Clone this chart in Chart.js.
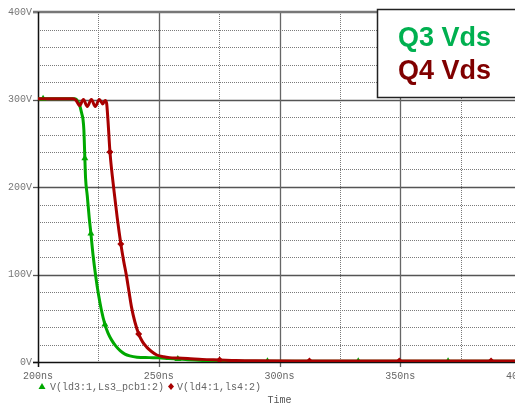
<!DOCTYPE html>
<html>
<head>
<meta charset="utf-8">
<script src="https://cdn.jsdelivr.net/npm/chart.js@4/dist/chart.umd.min.js"></script>
<style>
  html, body { margin: 0; padding: 0; background: #fff; overflow: hidden; }
  #wrap { width: 515px; height: 408px; overflow: hidden; }
  canvas { display: block; }
</style>
</head>
<body>
<div id="wrap"><canvas id="c" width="560" height="408"></canvas></div>
<script>
// Q3 drain-source voltage (time in ns, volts)
const timeQ3 = [200, 202.1, 210, 215.3, 216.5, 217.4, 218.2, 218.6, 219.0, 219.4, 219.7, 220.4, 221.2, 221.9, 222.8, 224.0, 225.0, 226.2, 227.7, 229.0, 230.5, 232.0, 234.0, 236.0, 238.0, 241.0, 246.0, 250.0, 254.0, 257.9, 262, 268, 275, 285, 295, 332.6, 369.8, 400];
const vdsQ3  = [301, 301, 301, 301, 298, 292, 283, 278, 265, 233, 210, 190, 165, 147, 122, 96, 78, 60, 43, 33, 25, 19, 13, 9, 7, 5.5, 5, 4.8, 4, 3.4, 2.6, 1.8, 1.2, 0.9, 0.8, 0.8, 0.8, 0.8];
const markerQ3 = [202.1, 219.4, 221.9, 227.7, 257.9, 295, 332.6, 369.8];

// Q4 drain-source voltage (time in ns, volts)
const timeQ4 = [200, 210, 214.5, 215.8, 217.2, 218.8, 220.4, 222.1, 223.7, 225.4, 226.8, 227.8, 228.4, 229.0, 229.8, 231.5, 232.8, 234.3, 235.5, 236.6, 237.7, 238.7, 240.1, 241.7, 243.3, 245.0, 247.0, 249.2, 252.0, 254.5, 258, 262, 268, 275.2, 282, 290, 312.4, 349.6, 387.6, 400];
const vdsQ4  = [301, 301, 301, 299, 293, 300, 292, 300, 292, 300, 295, 299, 296, 275, 240, 195, 165, 135, 115, 99, 80, 63, 46, 32, 23, 17, 12, 8, 6, 5, 4.5, 4, 3, 2.3, 1.6, 1.3, 1.2, 1.2, 1.2, 1.2];
const markerQ4 = [229.8, 234.3, 241.7, 275.2, 312.4, 349.6, 387.6];

// Axis ticks
const xTicks = [200, 250, 300, 350, 400];
const yTicks = [0, 100, 200, 300, 400];
const xMinor = [225, 275, 325, 375];
const yMinor = [20, 40, 60, 80, 120, 140, 160, 180, 220, 240, 260, 280, 320, 340, 360, 380];

const legendLabels = ['V(ld3:1,Ls3_pcb1:2)', 'V(ld4:1,ls4:2)'];
const boxLabels = ['Q3 Vds', 'Q4 Vds'];

const GREEN = '#00a800';
const RED = '#a80000';
const MONO = '"Liberation Mono", "DejaVu Sans Mono", monospace';

const toXY = (ts, vs) => ts.map((t, i) => ({ x: t, y: vs[i] }));

const gridPlugin = {
  id: 'psGrid',
  beforeDatasetsDraw(chart) {
    const { ctx, chartArea: a, scales: { x, y } } = chart;
    ctx.save();
    // dotted minor grid
    ctx.strokeStyle = '#7a7a7a';
    ctx.lineWidth = 1;
    ctx.setLineDash([1, 1]);
    yMinor.forEach(v => {
      const py = Math.round(y.getPixelForValue(v)) + 0.5;
      ctx.beginPath(); ctx.moveTo(a.left, py); ctx.lineTo(a.right, py); ctx.stroke();
    });
    xMinor.forEach(v => {
      const px = Math.round(x.getPixelForValue(v)) + 0.5;
      ctx.beginPath(); ctx.moveTo(px, a.top); ctx.lineTo(px, a.bottom); ctx.stroke();
    });
    ctx.setLineDash([]);
    // solid major grid
    ctx.strokeStyle = '#555';
    ctx.lineWidth = 1.3;
    yTicks.forEach(v => {
      if (v === 0 || v === 400) return;
      const py = Math.round(y.getPixelForValue(v)) + 0.5;
      ctx.beginPath(); ctx.moveTo(a.left, py); ctx.lineTo(a.right, py); ctx.stroke();
    });
    ctx.strokeStyle = '#666';
    xTicks.forEach(v => {
      if (v === 200) return;
      const px = Math.round(x.getPixelForValue(v)) + 0.5;
      ctx.beginPath(); ctx.moveTo(px, a.top); ctx.lineTo(px, a.bottom + 5); ctx.stroke();
    });
    // y tick marks
    ctx.strokeStyle = '#555';
    yTicks.forEach(v => {
      const py = Math.round(y.getPixelForValue(v)) + 0.5;
      ctx.beginPath(); ctx.moveTo(a.left - 5, py); ctx.lineTo(a.left, py); ctx.stroke();
    });
    // top frame line
    ctx.strokeStyle = '#777';
    ctx.lineWidth = 2.5;
    const pt = y.getPixelForValue(400);
    ctx.beginPath(); ctx.moveTo(a.left - 5, pt); ctx.lineTo(a.right, pt); ctx.stroke();
    // axes
    ctx.strokeStyle = '#111';
    ctx.lineWidth = 1.5;
    const p0 = Math.round(y.getPixelForValue(0)) + 0.5;
    ctx.beginPath(); ctx.moveTo(a.left - 5, p0); ctx.lineTo(a.right, p0); ctx.stroke();
    ctx.beginPath(); ctx.moveTo(a.left + 0.5, a.top); ctx.lineTo(a.left + 0.5, a.bottom + 5); ctx.stroke();
    ctx.restore();
  },
  afterDraw(chart) {
    const { ctx } = chart;
    ctx.save();
    // legend under the x axis
    ctx.font = '10px ' + MONO;
    ctx.fillStyle = '#666';
    ctx.textBaseline = 'middle';
    ctx.fillText(legendLabels[0], 50, 387);
    ctx.fillText(legendLabels[1], 177, 387);
    ctx.fillStyle = GREEN;
    ctx.beginPath(); ctx.moveTo(42, 383); ctx.lineTo(45.5, 389); ctx.lineTo(38.5, 389); ctx.closePath(); ctx.fill();
    ctx.fillStyle = RED;
    ctx.beginPath(); ctx.moveTo(171, 383); ctx.lineTo(174, 386.5); ctx.lineTo(171, 390); ctx.lineTo(168, 386.5); ctx.closePath(); ctx.fill();
    // labelled box
    ctx.fillStyle = '#fff';
    ctx.fillRect(377, 9, 200, 89);
    ctx.strokeStyle = '#222';
    ctx.lineWidth = 1.5;
    ctx.strokeRect(377.5, 9.5, 200, 88);
    ctx.font = 'bold 27px "Liberation Sans", Arial, sans-serif';
    ctx.textAlign = 'left';
    ctx.textBaseline = 'alphabetic';
    ctx.fillStyle = '#00b050';
    ctx.fillText(boxLabels[0], 398, 46);
    ctx.fillStyle = '#800000';
    ctx.fillText(boxLabels[1], 398, 79);
    ctx.restore();
  }
};

new Chart(document.getElementById('c'), {
  type: 'line',
  data: {
    datasets: [
      {
        label: legendLabels[1],
        data: toXY(timeQ4, vdsQ4),
        borderColor: RED,
        backgroundColor: RED,
        borderWidth: 3,
        pointStyle: 'rectRot',
        pointRadius: c => markerQ4.includes(c.raw.x) ? 3.5 : 0,
        pointBorderWidth: 0,
        cubicInterpolationMode: 'monotone',
        order: 0
      },
      {
        label: legendLabels[0],
        data: toXY(timeQ3, vdsQ3),
        borderColor: GREEN,
        backgroundColor: GREEN,
        borderWidth: 3,
        pointStyle: 'triangle',
        pointRadius: c => markerQ3.includes(c.raw.x) ? 4 : 0,
        pointBorderWidth: 0,
        cubicInterpolationMode: 'monotone',
        order: 1
      }
    ]
  },
  options: {
    responsive: false,
    devicePixelRatio: 1,
    animation: false,
    layout: { padding: { top: 12, right: 39, left: 0, bottom: 0 } },
    plugins: { legend: { display: false }, tooltip: { enabled: false } },
    scales: {
      x: {
        type: 'linear',
        min: 200, max: 400,
        afterFit: s => { s.height = 46; },
        afterBuildTicks: s => { s.ticks = xTicks.map(v => ({ value: v })); },
        grid: { display: false, drawTicks: false },
        border: { display: false },
        ticks: {
          padding: 8,
          color: '#666',
          font: { family: MONO, size: 10 },
          maxRotation: 0,
          callback: v => v + 'ns'
        },
        title: {
          display: true,
          text: 'Time',
          color: '#555',
          font: { family: MONO, size: 10 },
          padding: { top: 0, bottom: 2 }
        }
      },
      y: {
        min: 0, max: 400,
        afterFit: s => { s.width = 38; },
        afterBuildTicks: s => { s.ticks = yTicks.map(v => ({ value: v })); },
        grid: { display: false, drawTicks: false },
        border: { display: false },
        ticks: {
          padding: 6,
          color: '#777',
          font: { family: MONO, size: 10 },
          callback: v => v + 'V'
        }
      }
    }
  },
  plugins: [gridPlugin]
});
</script>
</body>
</html>
